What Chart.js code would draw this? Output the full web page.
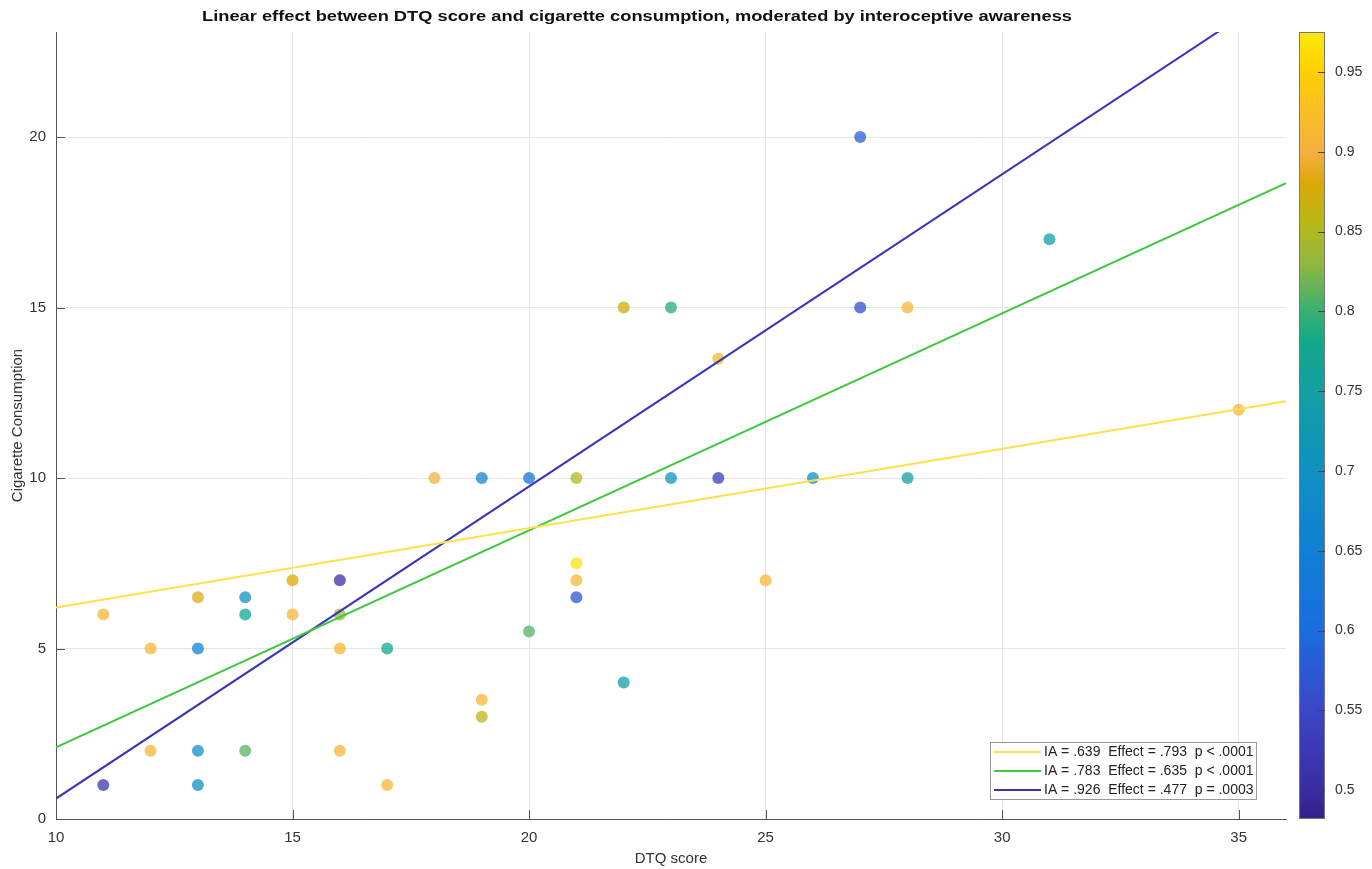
<!DOCTYPE html>
<html>
<head>
<meta charset="utf-8">
<title>DTQ score vs cigarette consumption</title>
<script src="https://cdn.jsdelivr.net/npm/chart.js@4"></script>
<style>
  html, body { margin: 0; padding: 0; background: #fff; }
  #wrap { width: 1372px; height: 869px; }
</style>
</head>
<body>
<div id="wrap"><canvas id="myChart" width="1372" height="869"></canvas></div>
<script>
// observed points
const dtqScore = [11, 11, 12, 12, 13, 13, 13, 13, 14, 14, 14, 15, 15, 16, 16, 16, 16, 17, 17, 18, 19, 19, 19,
  20, 20, 21, 21, 21, 21, 22, 22, 23, 23, 24, 24, 25, 26, 27, 27, 28, 28, 31, 35];
const cigarettes = [6, 1, 5, 2, 6.5, 5, 2, 1, 6.5, 6, 2, 7, 6, 7, 6, 5, 2, 5, 1, 10, 10, 3.5, 3,
  10, 5.5, 10, 7.5, 7, 6.5, 15, 4, 15, 10, 13.5, 10, 7, 10, 20, 15, 15, 10, 17, 12];
const awareness = [0.91, 0.52, 0.91, 0.91, 0.885, 0.66, 0.7, 0.7, 0.7, 0.77, 0.81, 0.88, 0.91, 0.5, 0.84, 0.91, 0.91, 0.78, 0.91, 0.9, 0.67, 0.91, 0.86,
  0.62, 0.81, 0.85, 0.97, 0.91, 0.57, 0.87, 0.75, 0.79, 0.72, 0.91, 0.53, 0.91, 0.69, 0.58, 0.56, 0.91, 0.75, 0.75, 0.905];

// fitted lines (end points)
const lineX = [10, 36];
const lineLow = [6.2, 12.25];
const lineMid = [2.1, 18.65];
const lineHigh = [0.6, 24.4];
const lineLabels = [
  "IA = .639  Effect = .793  p < .0001",
  "IA = .783  Effect = .635  p < .0001",
  "IA = .926  Effect = .477  p = .0003"
];
const lineColors = ["#ffe14a", "#3ec83e", "#3a35b8"];

// colour bar
const colorTicks = [0.5, 0.55, 0.6, 0.65, 0.7, 0.75, 0.8, 0.85, 0.9, 0.95];
const cmapValues = [0.482, 0.5, 0.55, 0.6, 0.65, 0.7, 0.75, 0.78, 0.8, 0.83, 0.855, 0.88, 0.9, 0.93, 0.95, 0.975];
const cmapColors = ["#351f8a", "#3a2ca0", "#3c46c6", "#1a6ce0", "#1080d4", "#1090c2", "#12a0a2", "#12a88c",
  "#38b074", "#90b840", "#b8b818", "#dca808", "#f4b040", "#fdc020", "#fdd000", "#fde810"];

function hexToRgb(h) {
  return [parseInt(h.slice(1, 3), 16), parseInt(h.slice(3, 5), 16), parseInt(h.slice(5, 7), 16)];
}
function cmap(v, alpha) {
  let i = 0;
  while (i < cmapValues.length - 2 && v > cmapValues[i + 1]) i++;
  const t = Math.min(1, Math.max(0, (v - cmapValues[i]) / (cmapValues[i + 1] - cmapValues[i])));
  const a = hexToRgb(cmapColors[i]), b = hexToRgb(cmapColors[i + 1]);
  const c = a.map((x, k) => Math.round(x + (b[k] - x) * t));
  return `rgba(${c[0]}, ${c[1]}, ${c[2]}, ${alpha})`;
}

const points = dtqScore.map((x, i) => ({ x: x, y: cigarettes[i] }));
const pointColors = awareness.map((v) => cmap(v, 0.75));

function lineData(ys) {
  return lineX.map((x, i) => ({ x: x, y: ys[i] }));
}

const textColor = "#333333";
const font = "'Liberation Sans', Arial, Helvetica, sans-serif";

const extras = {
  id: "extras",
  afterDraw(chart) {
    const ctx = chart.ctx;
    const area = chart.chartArea;
    const xs = chart.scales.x, ys = chart.scales.y, cb = chart.scales.cb;
    ctx.save();

    // title, stretched to the reference width
    const title = "Linear effect between DTQ score and cigarette consumption, moderated by interoceptive awareness";
    ctx.fillStyle = "#111";
    ctx.font = "bold 15px " + font;
    ctx.textAlign = "center";
    ctx.textBaseline = "middle";
    const tw = ctx.measureText(title).width;
    ctx.save();
    ctx.translate(637, 17);
    ctx.scale(870 / tw, 1);
    ctx.fillText(title, 0, 0);
    ctx.restore();

    // inward tick marks
    ctx.strokeStyle = "#555";
    ctx.lineWidth = 1;
    xs.ticks.forEach((t) => {
      const px = Math.round(xs.getPixelForValue(t.value)) + 0.5;
      ctx.beginPath(); ctx.moveTo(px, area.bottom); ctx.lineTo(px, area.bottom - 9); ctx.stroke();
    });
    ys.ticks.forEach((t) => {
      const py = Math.round(ys.getPixelForValue(t.value)) + 0.5;
      ctx.beginPath(); ctx.moveTo(area.left, py); ctx.lineTo(area.left + 9, py); ctx.stroke();
    });

    // colour bar
    const bx = area.right + 13, bw = 26;
    const yTop = cb.getPixelForValue(cb.max), yBot = cb.getPixelForValue(cb.min);
    const grad = ctx.createLinearGradient(0, yBot, 0, yTop);
    cmapValues.forEach((v, i) => grad.addColorStop((v - cb.min) / (cb.max - cb.min), cmapColors[i]));
    ctx.fillStyle = grad;
    ctx.fillRect(bx, yTop, bw, yBot - yTop);
    ctx.strokeStyle = "#777";
    ctx.strokeRect(bx + 0.5, yTop + 0.5, bw - 1, yBot - yTop - 1);
    ctx.strokeStyle = "#444";
    colorTicks.forEach((v) => {
      const py = Math.round(cb.getPixelForValue(v)) + 0.5;
      ctx.beginPath(); ctx.moveTo(bx + bw - 7, py); ctx.lineTo(bx + bw, py); ctx.stroke();
    });

    // legend box
    const lx = 990, ly = 742, lw = 266, lh = 57;
    ctx.fillStyle = "#fff";
    ctx.fillRect(lx, ly, lw, lh);
    ctx.strokeStyle = "#999";
    ctx.strokeRect(lx + 0.5, ly + 0.5, lw, lh);
    ctx.font = "14px " + font;
    ctx.textAlign = "left";
    ctx.textBaseline = "middle";
    lineLabels.forEach((label, i) => {
      const ry = ly + 10 + i * 19;
      ctx.strokeStyle = lineColors[i];
      ctx.lineWidth = 2;
      ctx.beginPath(); ctx.moveTo(lx + 4, ry); ctx.lineTo(lx + 51, ry); ctx.stroke();
      ctx.fillStyle = "#222";
      ctx.fillText(label, lx + 54, ry);
    });
    ctx.restore();
  }
};

const config = {
  type: "scatter",
  data: {
    datasets: [
      {
        label: "Participants",
        data: points,
        backgroundColor: pointColors,
        borderWidth: 0,
        pointRadius: 6,
        pointHoverRadius: 6,
        order: 2,
        xAxisID: "x",
        yAxisID: "y",
      },
      ...[lineLow, lineMid, lineHigh].map((ys, i) => ({
        type: "line",
        label: lineLabels[i],
        data: lineData(ys),
        borderColor: lineColors[i],
        borderWidth: 2,
        pointRadius: 0,
        fill: false,
        order: 1,
        xAxisID: "x",
        yAxisID: "y",
      })),
    ],
  },
  options: {
    responsive: false,
    animation: false,
    devicePixelRatio: 1,
    layout: { padding: { top: 32, left: 0, right: 0, bottom: 0 } },
    plugins: {
      legend: { display: false },
      tooltip: { enabled: false },
    },
    scales: {
      x: {
        type: "linear",
        position: "bottom",
        min: 10,
        max: 36,
        afterBuildTicks: (s) => { s.ticks = s.ticks.filter((t) => t.value % 5 === 0); },
        afterFit: (s) => { s.height = 50; },
        grid: { color: "#e6e6e6", drawTicks: false },
        border: { color: "#555", width: 1 },
        ticks: { stepSize: 5, padding: 10, color: textColor, font: { family: font, size: 15 } },
        title: { display: true, text: "DTQ score", color: textColor, font: { family: font, size: 15 }, padding: { top: 0, bottom: 1 } },
      },
      y: {
        type: "linear",
        position: "left",
        min: 0,
        max: 23.08,
        afterBuildTicks: (s) => { s.ticks = s.ticks.filter((t) => t.value % 5 === 0); },
        afterFit: (s) => { s.width = 56; },
        grid: { color: "#e6e6e6", drawTicks: false },
        border: { color: "#555", width: 1 },
        ticks: { stepSize: 5, padding: 10, color: textColor, font: { family: font, size: 15 } },
        title: { display: true, text: "Cigarette Consumption", color: textColor, font: { family: font, size: 15 }, padding: { top: 9, bottom: 0 } },
      },
      cb: {
        type: "linear",
        position: "right",
        min: 0.482,
        max: 0.975,
        afterBuildTicks: (s) => { s.ticks = colorTicks.map((v) => ({ value: v })); },
        afterFit: (s) => {
          s.width = 86;
          // the large label offset would otherwise be added to the layout padding
          s.paddingTop = 0;
          s.paddingBottom = 0;
        },
        grid: { display: false, drawTicks: false, tickLength: 0 },
        border: { display: false },
        ticks: {
          padding: 49,
          color: textColor,
          font: { family: font, size: 14 },
          callback: (v) => String(Math.round(v * 100) / 100),
        },
      },
    },
  },
  plugins: [extras],
};

const myChart = new Chart(document.getElementById("myChart"), config);
</script>
</body>
</html>
